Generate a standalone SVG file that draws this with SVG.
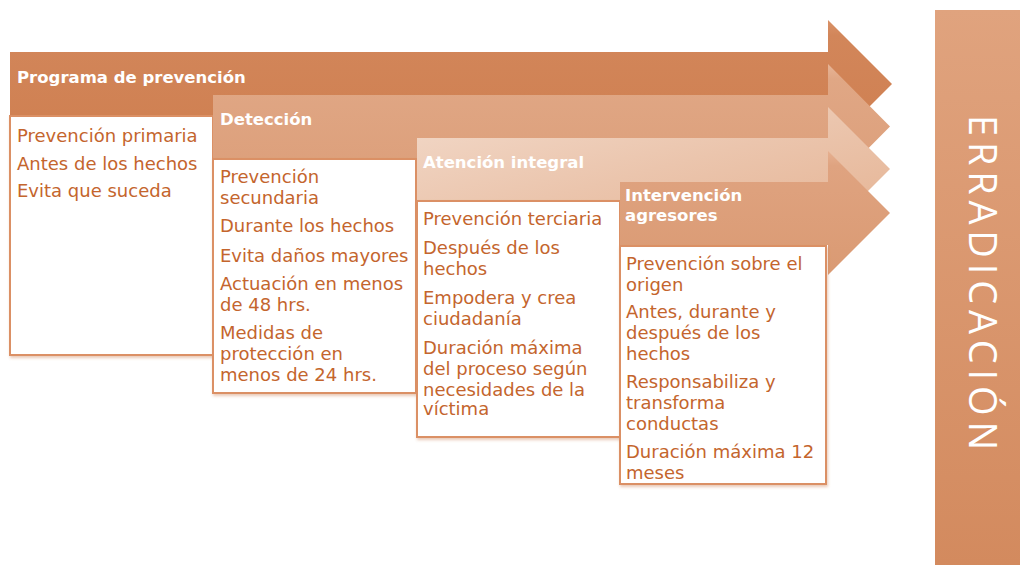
<svg xmlns="http://www.w3.org/2000/svg" width="1020" height="565" viewBox="0 0 1020 565">
<style>
.body{font-family:"DejaVu Sans","Liberation Sans",sans-serif;font-size:18px;fill:#C4652D}
.head{font-family:"DejaVu Sans","Liberation Sans",sans-serif;font-size:16.5px;font-weight:bold;fill:#FFFFFF}
.box{fill:#FFFFFF;stroke:#DB9065;stroke-width:2;filter:url(#sh)}
.erra{font-family:"Open Sans","DejaVu Sans",sans-serif;font-size:38px;font-weight:400;fill:#FFFFFF}
</style>
<defs>
<filter id="sh" x="-5%" y="-5%" width="115%" height="115%">
<feDropShadow dx="1" dy="2" stdDeviation="1.5" flood-color="#C8784A" flood-opacity="0.4"/>
</filter>
<linearGradient id="g1" x1="0" y1="0" x2="0" y2="1">
<stop offset="0" stop-color="#D99268"/><stop offset="0.12" stop-color="#D2865A"/><stop offset="1" stop-color="#CF7F50"/>
</linearGradient>
<linearGradient id="g2" x1="0" y1="0" x2="0" y2="1">
<stop offset="0" stop-color="#E7B597"/><stop offset="0.12" stop-color="#E0A785"/><stop offset="1" stop-color="#DC9E79"/>
</linearGradient>
<linearGradient id="g3" x1="0" y1="0" x2="1" y2="1">
<stop offset="0" stop-color="#F2D9C9"/><stop offset="0.5" stop-color="#EBC5AD"/><stop offset="1" stop-color="#E5B393"/>
</linearGradient>
<linearGradient id="g4" x1="0" y1="0" x2="0" y2="1">
<stop offset="0" stop-color="#E6B090"/><stop offset="0.12" stop-color="#DFA380"/><stop offset="1" stop-color="#DA9A73"/>
</linearGradient>
<linearGradient id="gE" x1="0" y1="0" x2="0" y2="1">
<stop offset="0" stop-color="#E0A37E"/><stop offset="1" stop-color="#D38A5E"/>
</linearGradient>
</defs>

<g id="erradicacion">
<rect x="935" y="10" width="85" height="555" fill="url(#gE)"/>
<text class="erra" transform="translate(969,115) rotate(90)" x="0" y="0" textLength="335" lengthAdjust="spacing">ERRADICACIÓN</text>
</g>

<g id="connectors"></g>

<g id="programa">
<path d="M10,52 H828 V20 L892,84 L828,148 V116 H10 Z" fill="url(#g1)"/>
<text class="head" x="17" y="83">Programa de prevención</text>
<rect class="box" x="10" y="116" width="203" height="239"/>
<text class="body" x="17" y="142">Prevención primaria</text>
<text class="body" x="17" y="170">Antes de los hechos</text>
<text class="body" x="17" y="197">Evita que suceda</text>
</g>

<g id="deteccion">
<path d="M213,95 H828 V64 L890,126.5 L828,189 V158 H213 Z" fill="url(#g2)"/>
<text class="head" x="220" y="125">Detección</text>
<rect class="box" x="213" y="159" width="203" height="234"/>
<text class="body" x="220" y="183">Prevención</text>
<text class="body" x="220" y="204">secundaria</text>
<text class="body" x="220" y="232">Durante los hechos</text>
<text class="body" x="220" y="262">Evita daños mayores</text>
<text class="body" x="220" y="290">Actuación en menos</text>
<text class="body" x="220" y="311">de 48 hrs.</text>
<text class="body" x="220" y="339">Medidas de</text>
<text class="body" x="220" y="360">protección en</text>
<text class="body" x="220" y="381">menos de 24 hrs.</text>
</g>

<g id="atencion">
<path d="M417,138 H828 V107 L890,169 L828,231 V200 H417 Z" fill="url(#g3)"/>
<text class="head" x="423" y="168">Atención integral</text>
<rect class="box" x="417" y="201" width="203" height="236"/>
<text class="body" x="423" y="225">Prevención terciaria</text>
<text class="body" x="423" y="254">Después de los</text>
<text class="body" x="423" y="275">hechos</text>
<text class="body" x="423" y="304">Empodera y crea</text>
<text class="body" x="423" y="325">ciudadanía</text>
<text class="body" x="423" y="354">Duración máxima</text>
<text class="body" x="423" y="375">del proceso según</text>
<text class="body" x="423" y="396">necesidades de la</text>
<text class="body" x="423" y="415">víctima</text>
</g>

<g id="intervencion">
<path d="M620,182 H828 V151 L890,213 L828,275 V245 H620 Z" fill="url(#g4)"/>
<text class="head" x="625" y="201">Intervención</text>
<text class="head" x="625" y="221">agresores</text>
<rect class="box" x="620" y="246" width="206" height="238"/>
<text class="body" x="626" y="270">Prevención sobre el</text>
<text class="body" x="626" y="291">origen</text>
<text class="body" x="626" y="318">Antes, durante y</text>
<text class="body" x="626" y="339">después de los</text>
<text class="body" x="626" y="360">hechos</text>
<text class="body" x="626" y="388">Responsabiliza y</text>
<text class="body" x="626" y="409">transforma</text>
<text class="body" x="626" y="430">conductas</text>
<text class="body" x="626" y="458">Duración máxima 12</text>
<text class="body" x="626" y="479">meses</text>
</g>
</svg>
